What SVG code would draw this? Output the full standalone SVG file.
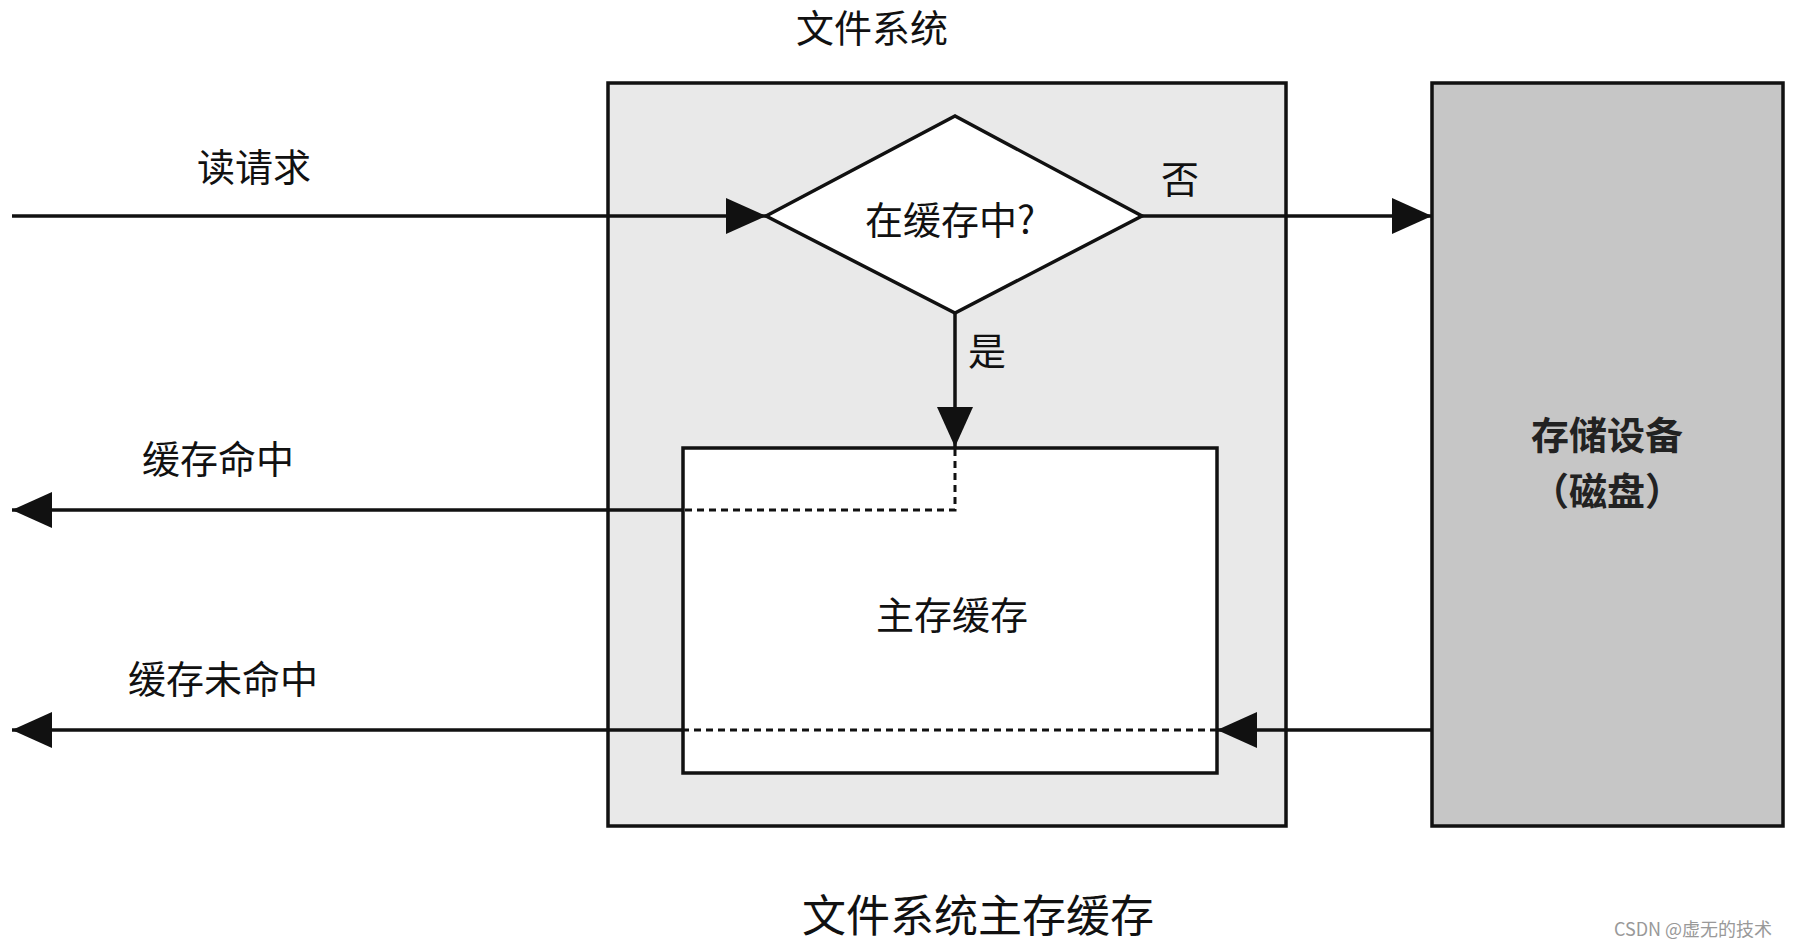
<svg xmlns="http://www.w3.org/2000/svg" width="1794" height="946" viewBox="0 0 1794 946">
<style>
text{font-family:"Noto Sans CJK SC","Noto Sans",sans-serif;fill:#111;text-anchor:middle;dominant-baseline:central}
.lbl{font-size:38px}
.box{stroke:#111;stroke-width:3.5}
.ln{stroke:#111;stroke-width:3.5;fill:none}
.dash{stroke:#111;stroke-width:3;fill:none;stroke-dasharray:7 5}
</style>
<defs>
<marker id="ah" viewBox="0 0 40 36" refX="40" refY="18" markerWidth="40" markerHeight="36" markerUnits="userSpaceOnUse" orient="auto">
<path d="M0,0 L40,18 L0,36 z" fill="#111"/>
</marker>
</defs>
<rect width="1794" height="946" fill="#fff"/>
<g id="fs">
<rect class="box" x="608" y="83" width="678" height="743" fill="#e9e9e9"/>
<text class="lbl" x="872" y="25">文件系统</text>
</g>
<g id="storage">
<rect class="box" x="1432" y="83" width="351" height="743" fill="#c6c6c6"/>
<text x="1607" y="432" style="font-size:38px;font-weight:bold;fill:#222">存储设备</text>
<text x="1607" y="488" style="font-size:38px;font-weight:bold;fill:#222">（磁盘）</text>
</g>
<g id="cache">
<rect class="box" x="683" y="448" width="534" height="325" fill="#fff"/>
<text class="lbl" x="952" y="612">主存缓存</text>
</g>
<g id="decision">
<polygon class="box" points="766,216 955,116 1142,216 955,313" fill="#fff"/>
<text class="lbl" x="950" y="217">在缓存中?</text>
</g>
<g id="connectors">
<line class="ln" x1="12" y1="216" x2="766" y2="216" marker-end="url(#ah)"/>
<line class="ln" x1="1142" y1="216" x2="1432" y2="216" marker-end="url(#ah)"/>
<line class="ln" x1="955" y1="313" x2="955" y2="447" marker-end="url(#ah)"/>
<path class="dash" d="M955,449 V510 H683"/>
<line class="ln" x1="683" y1="510" x2="12" y2="510" marker-end="url(#ah)"/>
<line class="ln" x1="1432" y1="730" x2="1217" y2="730" marker-end="url(#ah)"/>
<line class="dash" x1="1217" y1="730" x2="683" y2="730"/>
<line class="ln" x1="683" y1="730" x2="12" y2="730" marker-end="url(#ah)"/>
</g>
<g id="labels">
<text class="lbl" x="254" y="164">读请求</text>
<text class="lbl" x="1180" y="176">否</text>
<text class="lbl" x="987" y="348">是</text>
<text class="lbl" x="218" y="456">缓存命中</text>
<text class="lbl" x="223" y="676">缓存未命中</text>
<text x="978" y="913" style="font-size:44px">文件系统主存缓存</text>
<text x="1693" y="928" style="font-size:18px;fill:#999">CSDN @虚无的技术</text>
</g>
</svg>
